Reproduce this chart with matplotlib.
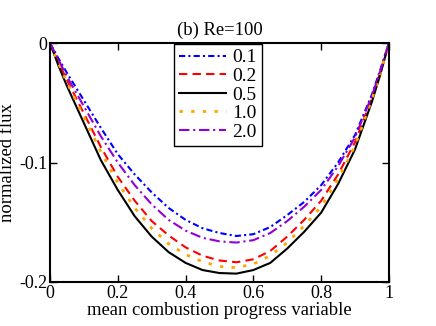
import matplotlib
matplotlib.use("Agg")
import matplotlib.pyplot as plt
from matplotlib.ticker import FuncFormatter

plt.rcParams['font.family'] = ['Liberation Serif', 'DejaVu Serif']

c = [0, 0.025, 0.05, 0.1, 0.15, 0.2, 0.25, 0.3, 0.35, 0.4, 0.45, 0.5, 0.55,
     0.6, 0.65, 0.7, 0.75, 0.8, 0.85, 0.9, 0.95, 0.975, 1.0]

flux_01 = [0, -0.013, -0.025, -0.048, -0.071, -0.093, -0.110, -0.125, -0.138, -0.148, -0.155, -0.159, -0.1615,
           -0.160, -0.154, -0.144, -0.133, -0.119, -0.100, -0.077, -0.043, -0.022, 0]
flux_02 = [0, -0.016, -0.031, -0.059, -0.087, -0.112, -0.132, -0.149, -0.161, -0.171, -0.178, -0.182, -0.1835,
           -0.181, -0.174, -0.162, -0.148, -0.132, -0.110, -0.083, -0.046, -0.024, 0]
flux_05 = [0, -0.019, -0.036, -0.067, -0.098, -0.123, -0.145, -0.162, -0.175, -0.184, -0.190, -0.1925, -0.193,
           -0.190, -0.184, -0.172, -0.158, -0.142, -0.118, -0.089, -0.049, -0.026, 0]
flux_10 = [0, -0.017, -0.033, -0.062, -0.091, -0.117, -0.138, -0.155, -0.168, -0.177, -0.183, -0.187, -0.188,
           -0.185, -0.178, -0.167, -0.153, -0.137, -0.114, -0.086, -0.047, -0.025, 0]
flux_20 = [0, -0.014, -0.028, -0.053, -0.078, -0.100, -0.119, -0.135, -0.148, -0.157, -0.163, -0.166, -0.167,
           -0.165, -0.159, -0.149, -0.137, -0.123, -0.103, -0.079, -0.044, -0.023, 0]

labels = ['0.1', '0.2', '0.5', '1.0', '2.0']
series = [flux_01, flux_02, flux_05, flux_10, flux_20]
colors = ['blue', 'red', 'black', 'orange', 'darkviolet']
styles = [(0, (3, 1.5, 1, 1.5)), (0, (4, 2.5)), '-', (0, (1.2, 3)), (0, (5, 1.8, 1, 1.8))]
widths = [1.5, 1.5, 1.5, 2.0, 1.5]

fig = plt.figure(figsize=(4.36, 3.26), dpi=100)
ax = fig.add_axes([0.1147, 0.135, 0.7773, 0.733])

for y, lab, col, ls, lw in zip(series, labels, colors, styles, widths):
    ax.plot(c, y, color=col, linestyle=ls, linewidth=lw, label=lab)

ax.set_xlim(0, 1)
ax.set_ylim(-0.2, 0)
ax.set_xticks([0, 0.2, 0.4, 0.6, 0.8, 1.0])
ax.set_yticks([-0.2, -0.1, 0])
ax.xaxis.set_major_formatter(FuncFormatter(lambda v, p: '0' if abs(v) < 1e-9 else ('1' if abs(v - 1) < 1e-9 else f'{v:.1f}')))
ax.yaxis.set_major_formatter(FuncFormatter(lambda v, p: '0' if abs(v) < 1e-9 else f'{v:.1f}'.replace('\u2212', '-')))
ax.tick_params(direction='in', top=True, right=True, labelsize=13, length=5, width=1, pad=2)
for s in ax.spines.values():
    s.set_linewidth(1.5)

ax.set_xlabel('mean combustion progress variable', fontsize=13.4, labelpad=0)
ax.set_ylabel('normalized flux', fontsize=13.4, labelpad=2)
ax.set_title('(b) Re=100', fontsize=13.4, pad=6)

leg = ax.legend(loc='upper center', bbox_to_anchor=(0.4956, 1.0), fontsize=14, frameon=True,
                fancybox=False, handlelength=2.42, borderpad=0.25, labelspacing=0.05,
                handletextpad=0.31, borderaxespad=0.05)
leg.get_frame().set_edgecolor('black')
leg.get_frame().set_linewidth(1.0)
leg.get_frame().set_alpha(1)

fig.savefig('out.png', dpi=100)
